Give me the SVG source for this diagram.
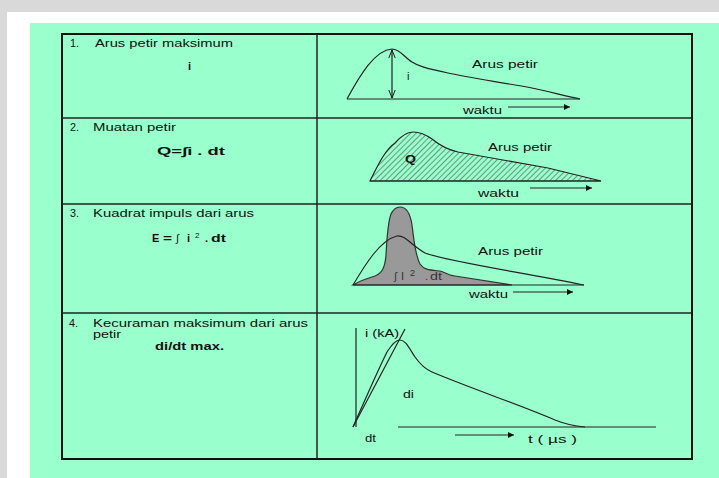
<svg xmlns="http://www.w3.org/2000/svg" width="719" height="478" viewBox="0 0 719 478">
<style>
.t{font-family:"Liberation Sans",Arial,sans-serif;font-size:11px;fill:#111}
.b{font-family:"Liberation Sans",Arial,sans-serif;font-size:11px;font-weight:bold;fill:#111}
.ln{fill:none;stroke:#222;stroke-width:1.2}
.grid{fill:none;stroke:#222;stroke-width:1.5}
</style>
<defs>
<marker id="fa" viewBox="0 0 10 10" refX="10" refY="5" markerWidth="6" markerHeight="6" orient="auto" markerUnits="userSpaceOnUse"><path d="M0,0 L10,5 L0,10 Z" fill="#111"/></marker>
<marker id="oa" viewBox="0 0 10 10" refX="10" refY="5" markerWidth="8" markerHeight="8" orient="auto" markerUnits="userSpaceOnUse"><path d="M0,1 L10,5 L0,9" fill="none" stroke="#111" stroke-width="1.2"/></marker>
<pattern id="hatch" width="4" height="4" patternUnits="userSpaceOnUse" patternTransform="rotate(45)"><line x1="0" y1="0" x2="0" y2="4" stroke="#333" stroke-width="1"/></pattern>
</defs>
<rect width="719" height="478" fill="#d9d9d9"/>
<rect x="7" y="12" width="712" height="466" fill="#ffffff"/>
<rect x="30" y="23" width="689" height="455" fill="#99ffcc"/>

<g id="table">
<rect x="62" y="34" width="630" height="425" fill="none" stroke="#111" stroke-width="2"/>
<line class="grid" x1="62" y1="118" x2="692" y2="118"/>
<line class="grid" x1="62" y1="204" x2="692" y2="204"/>
<line class="grid" x1="62" y1="313" x2="692" y2="313"/>
<line class="grid" x1="317" y1="34" x2="317" y2="459"/>
</g>

<g id="row1-text">
<text class="t" x="70" y="47" textLength="9" lengthAdjust="spacingAndGlyphs">1.</text>
<text class="t" x="95" y="47" textLength="138" lengthAdjust="spacingAndGlyphs">Arus petir maksimum</text>
<text class="b" x="188" y="70">i</text>
</g>
<g id="row2-text">
<text class="t" x="70" y="131" textLength="9" lengthAdjust="spacingAndGlyphs">2.</text>
<text class="t" x="93" y="131" textLength="83" lengthAdjust="spacingAndGlyphs">Muatan petir</text>
<text class="b" x="157" y="155" textLength="68" lengthAdjust="spacingAndGlyphs">Q=∫i . dt</text>
</g>
<g id="row3-text">
<text class="t" x="70" y="217" textLength="9" lengthAdjust="spacingAndGlyphs">3.</text>
<text class="t" x="93" y="217" textLength="161" lengthAdjust="spacingAndGlyphs">Kuadrat impuls dari arus</text>
<text class="b" y="242"><tspan x="152">E</tspan><tspan x="163" textLength="9" lengthAdjust="spacingAndGlyphs">=</tspan><tspan x="176" font-weight="normal">∫</tspan><tspan x="187">i</tspan><tspan x="195" y="238" font-size="8" font-weight="normal">2</tspan><tspan x="205" y="242">.</tspan><tspan x="211" textLength="15" lengthAdjust="spacingAndGlyphs">dt</tspan></text>
</g>
<g id="row4-text">
<text class="t" x="69" y="327" textLength="9" lengthAdjust="spacingAndGlyphs">4.</text>
<text class="t" x="93" y="327" textLength="215" lengthAdjust="spacingAndGlyphs">Kecuraman maksimum dari arus</text>
<text class="t" x="93" y="338" textLength="28" lengthAdjust="spacingAndGlyphs">petir</text>
<text class="b" x="155" y="350" textLength="69" lengthAdjust="spacingAndGlyphs">di/dt max.</text>
</g>

<g id="graph1">
<line class="ln" x1="347" y1="99" x2="580" y2="99"/>
<path class="ln" d="M347,99 C360,75 375,50 392,49 C400,49 405,58 412,62 C418,66 425,68 448,73 C470,78 500,82 532,88 C550,92 570,97 580,99"/>
<line class="ln" x1="392" y1="74" x2="392" y2="50" marker-end="url(#oa)"/>
<line class="ln" x1="392" y1="74" x2="392" y2="98" marker-end="url(#oa)"/>
<text class="t" x="407" y="80">i</text>
<text class="t" x="472" y="68" textLength="66" lengthAdjust="spacingAndGlyphs">Arus petir</text>
<text class="t" x="463" y="114" textLength="39" lengthAdjust="spacingAndGlyphs">waktu</text>
<line class="ln" x1="508" y1="107" x2="570" y2="107" marker-end="url(#fa)"/>
</g>

<g id="graph2">
<path d="M370,181 C378,165 385,150 395,143 C402,135 408,132 413,132 C420,132 425,134 432,139 C438,144 445,149 458,152 L548,168 L601,181 Z" fill="url(#hatch)" stroke="#222" stroke-width="1.2"/>
<line class="ln" x1="370" y1="181" x2="601" y2="181"/>
<text class="b" x="405" y="163" font-size="10" textLength="11" lengthAdjust="spacingAndGlyphs">Q</text>
<text class="t" x="488" y="151" textLength="64" lengthAdjust="spacingAndGlyphs">Arus petir</text>
<text class="t" x="478" y="197" textLength="41" lengthAdjust="spacingAndGlyphs">waktu</text>
<line class="ln" x1="530" y1="188" x2="592" y2="188" marker-end="url(#fa)"/>
</g>

<g id="graph3">
<path d="M353,285 C360,281 368,278 375,276 C382,273 385,268 386,255 C387,235 388,222 391,214 C394,208 397,207 400,207 C406,207 410,212 412,225 C414,240 415,255 420,264 C424,270 430,270 440,271 C445,272 447,275 455,276 L512,285 Z" fill="#999999" stroke="#333" stroke-width="1.2"/>
<path class="ln" d="M353,285 C365,265 380,240 397,236 C405,235 410,244 425,253 C450,262 520,272 584,285"/>
<line class="ln" x1="353" y1="285" x2="584" y2="285"/>
<text y="280" font-family="Liberation Sans,Arial,sans-serif" font-size="11" fill="#333"><tspan x="394">∫</tspan><tspan x="401">I</tspan><tspan x="410" y="276" font-size="9">2</tspan><tspan x="425" y="280">.</tspan><tspan x="430" textLength="12" lengthAdjust="spacingAndGlyphs">dt</tspan></text>
<text class="t" x="478" y="255" textLength="65" lengthAdjust="spacingAndGlyphs">Arus petir</text>
<text class="t" x="469" y="298" textLength="39" lengthAdjust="spacingAndGlyphs">waktu</text>
<line class="ln" x1="513" y1="292" x2="573" y2="292" marker-end="url(#fa)"/>
</g>

<g id="graph4">
<line class="ln" x1="356" y1="328" x2="356" y2="427"/>
<line class="ln" x1="398" y1="427" x2="656" y2="427"/>
<path class="ln" d="M353,427 C365,400 378,370 387,352 C392,344 396,340 400,340 C406,340 410,350 415,357 C420,364 425,369 432,372 C470,388 520,405 555,420 C565,424 575,426 585,427"/>
<line class="ln" x1="353" y1="427" x2="405" y2="329"/>
<text class="t" x="365" y="337" textLength="34" lengthAdjust="spacingAndGlyphs">i (kA)</text>
<text class="t" x="403" y="398" textLength="11" lengthAdjust="spacingAndGlyphs">di</text>
<text class="t" x="365" y="442" textLength="11" lengthAdjust="spacingAndGlyphs">dt</text>
<line class="ln" x1="455" y1="435" x2="514" y2="435" marker-end="url(#fa)"/>
<text class="t" x="528" y="443" textLength="49" lengthAdjust="spacingAndGlyphs">t  ( µs )</text>
</g>
</svg>
